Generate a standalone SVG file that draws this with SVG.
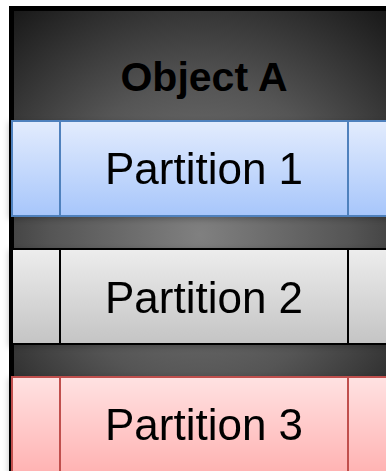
<svg xmlns="http://www.w3.org/2000/svg" width="386" height="471" viewBox="0 0 386 471">
<defs>
<radialGradient id="objBg" cx="200" cy="235" r="300" gradientUnits="userSpaceOnUse">
<stop offset="0" stop-color="#808080"/>
<stop offset="0.5" stop-color="#555555"/>
<stop offset="1" stop-color="#151515"/>
</radialGradient>
<linearGradient id="blueG" x1="0" y1="0" x2="0" y2="1">
<stop offset="0" stop-color="#e3ecfd"/>
<stop offset="1" stop-color="#a7c6fb"/>
</linearGradient>
<linearGradient id="grayG" x1="0" y1="0" x2="0" y2="1">
<stop offset="0" stop-color="#ededed"/>
<stop offset="1" stop-color="#c4c4c4"/>
</linearGradient>
<linearGradient id="redG" x1="0" y1="0" x2="0" y2="1">
<stop offset="0" stop-color="#ffe2e2"/>
<stop offset="1" stop-color="#ffa6a6"/>
</linearGradient>
<filter id="shadow" x="-10%" y="-10%" width="120%" height="120%">
<feDropShadow dx="-2" dy="2" stdDeviation="3" flood-color="#000" flood-opacity="0.25"/>
</filter>
</defs>
<style>
.label{font-family:"Liberation Sans",Arial,sans-serif;font-size:44px;fill:#000;text-anchor:middle}
.title{font-family:"Liberation Sans",Arial,sans-serif;font-size:41px;font-weight:bold;fill:#000;text-anchor:middle}
.p1{fill:url(#blueG);stroke:#4f81bd;stroke-width:2}
.p2{fill:url(#grayG);stroke:#000;stroke-width:2}
.p3{fill:url(#redG);stroke:#c0504d;stroke-width:2}
</style>
<g id="objectA">
<rect x="11.5" y="8.5" width="400" height="500" fill="url(#objBg)" stroke="#000" stroke-width="5"/>
<text class="title" x="204" y="91">Object A</text>
</g>
<g id="partition1" filter="url(#shadow)">
<rect class="p1" x="12" y="121" width="390" height="95"/>
<line class="p1" x1="60" y1="121" x2="60" y2="216"/>
<line class="p1" x1="348" y1="121" x2="348" y2="216"/>
<text class="label" x="204" y="184">Partition 1</text>
</g>
<g id="partition2" filter="url(#shadow)">
<rect class="p2" x="12" y="249" width="390" height="95"/>
<line class="p2" x1="60" y1="249" x2="60" y2="344"/>
<line class="p2" x1="348" y1="249" x2="348" y2="344"/>
<text class="label" x="204" y="313">Partition 2</text>
</g>
<g id="partition3" filter="url(#shadow)">
<rect class="p3" x="12" y="377" width="390" height="120"/>
<line class="p3" x1="60" y1="377" x2="60" y2="497"/>
<line class="p3" x1="348" y1="377" x2="348" y2="497"/>
<text class="label" x="204" y="440">Partition 3</text>
</g>
</svg>
